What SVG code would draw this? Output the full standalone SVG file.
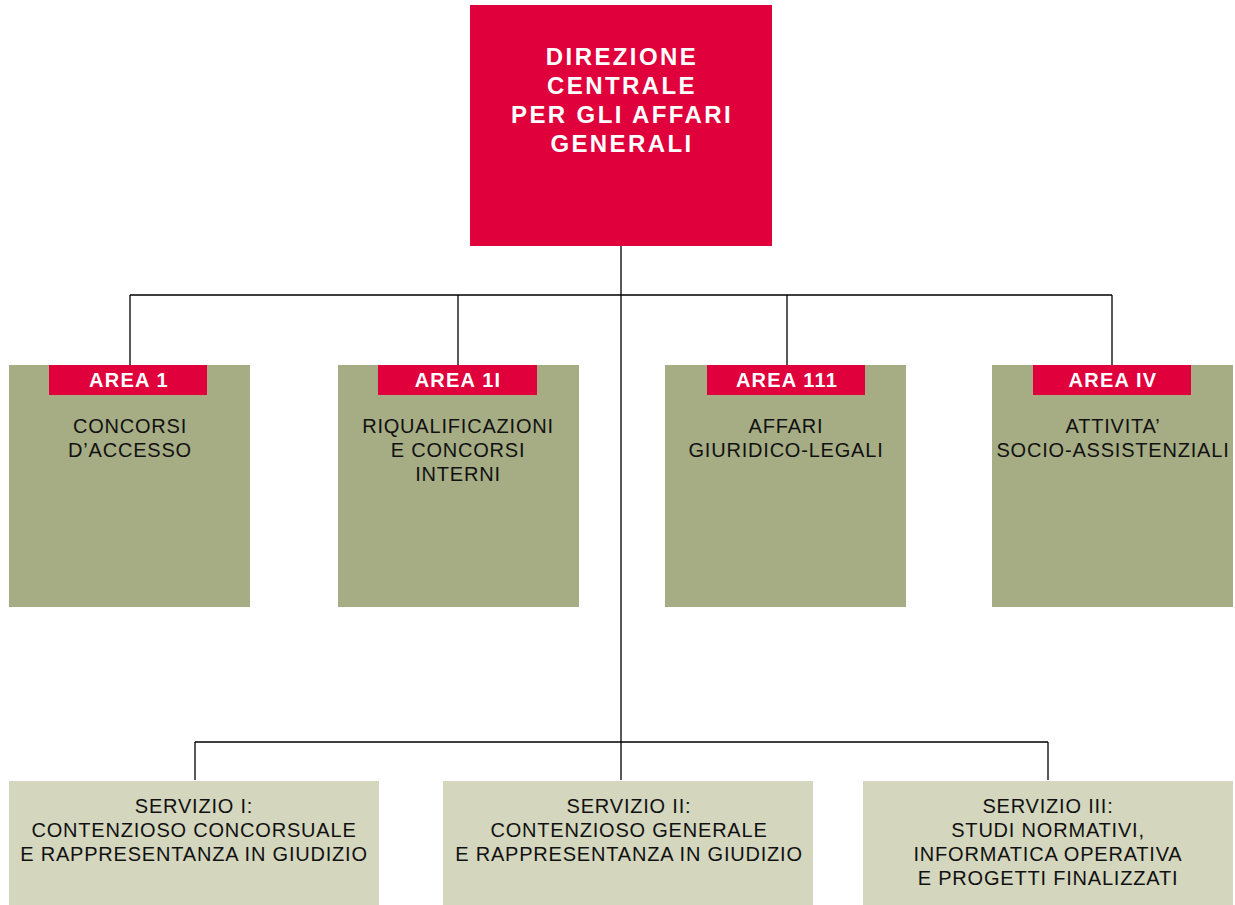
<svg xmlns="http://www.w3.org/2000/svg" width="1235" height="905" viewBox="0 0 1235 905">
<style>
.red{fill:#E0003C}
.area{fill:#A6AD84}
.serv{fill:#D4D7BE}
.conn{stroke:#000;stroke-width:1.3;fill:none}
.t{font-family:"Liberation Sans","Open Sans",sans-serif;text-anchor:middle}
.top{fill:#fff;font-weight:bold;font-size:24px;letter-spacing:2.4px}
.lab{fill:#fff;font-weight:bold;font-size:20px;letter-spacing:1.2px}
.body{fill:#111;font-size:20px;letter-spacing:0.8px}
</style>
<rect width="1235" height="905" fill="#fff"/>
<g id="connectors">
<path class="conn" d="M621 246V780M130 295H1112M130 295V366M458 295V366M787 295V366M1112 295V366M195 742H1048M195 742V780M1048 742V780"/>
</g>
<g id="direzione">
<rect class="red" x="470" y="5" width="302" height="241"/>
<text class="t top"><tspan x="622" y="65">DIREZIONE</tspan><tspan x="622" y="94">CENTRALE</tspan><tspan x="622" y="123">PER GLI AFFARI</tspan><tspan x="622" y="152">GENERALI</tspan></text>
</g>
<g id="area1">
<rect class="area" x="9" y="365" width="241" height="242"/>
<rect class="red" x="49" y="365" width="158" height="30"/>
<text class="t lab" x="129" y="387">AREA 1</text>
<text class="t body"><tspan x="130" y="433">CONCORSI</tspan><tspan x="130" y="457">D’ACCESSO</tspan></text>
</g>
<g id="area2">
<rect class="area" x="338" y="365" width="241" height="242"/>
<rect class="red" x="378" y="365" width="159" height="30"/>
<text class="t lab" x="458" y="387">AREA 1I</text>
<text class="t body"><tspan x="458" y="433">RIQUALIFICAZIONI</tspan><tspan x="458" y="457">E CONCORSI</tspan><tspan x="458" y="481">INTERNI</tspan></text>
</g>
<g id="area3">
<rect class="area" x="665" y="365" width="241" height="242"/>
<rect class="red" x="707" y="365" width="158" height="30"/>
<text class="t lab" x="787" y="387">AREA 111</text>
<text class="t body"><tspan x="786" y="433">AFFARI</tspan><tspan x="786" y="457">GIURIDICO-LEGALI</tspan></text>
</g>
<g id="area4">
<rect class="area" x="992" y="365" width="241" height="242"/>
<rect class="red" x="1033" y="365" width="158" height="30"/>
<text class="t lab" x="1113" y="387">AREA IV</text>
<text class="t body"><tspan x="1113" y="433">ATTIVITA’</tspan><tspan x="1113" y="457">SOCIO-ASSISTENZIALI</tspan></text>
</g>
<g id="servizio1">
<rect class="serv" x="9" y="781" width="370" height="124"/>
<text class="t body"><tspan x="194" y="813">SERVIZIO I:</tspan><tspan x="194" y="837">CONTENZIOSO CONCORSUALE</tspan><tspan x="194" y="861">E RAPPRESENTANZA IN GIUDIZIO</tspan></text>
</g>
<g id="servizio2">
<rect class="serv" x="443" y="781" width="370" height="124"/>
<text class="t body"><tspan x="629" y="813">SERVIZIO II:</tspan><tspan x="629" y="837">CONTENZIOSO GENERALE</tspan><tspan x="629" y="861">E RAPPRESENTANZA IN GIUDIZIO</tspan></text>
</g>
<g id="servizio3">
<rect class="serv" x="863" y="781" width="370" height="124"/>
<text class="t body"><tspan x="1048" y="813">SERVIZIO III:</tspan><tspan x="1048" y="837">STUDI NORMATIVI,</tspan><tspan x="1048" y="861">INFORMATICA OPERATIVA</tspan><tspan x="1048" y="885">E PROGETTI FINALIZZATI</tspan></text>
</g>
</svg>
